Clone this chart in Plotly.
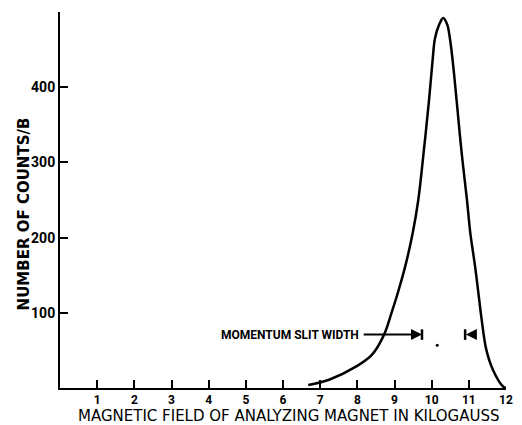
import plotly.graph_objects as go

# Counting-rate curve vs. analyzing-magnet field
field_kg = [6.68, 7.24, 7.95, 8.39, 8.72, 8.92, 9.11, 9.30, 9.49, 9.64, 9.79, 9.93,
            10.02, 10.09, 10.20, 10.31, 10.42, 10.49, 10.57, 10.67, 10.80, 10.95,
            11.04, 11.17, 11.28, 11.34, 11.47, 11.65, 11.92, 12.0]
counts_per_b = [4, 11, 28, 44, 71, 100, 130, 164, 206, 250, 316, 383,
                433, 465, 483, 492, 483, 465, 433, 383, 316, 250,
                206, 161, 117, 93, 51, 24, 2, 0]

x_ticks = [1, 2, 3, 4, 5, 6, 7, 8, 9, 10, 11, 12]
y_ticks = [100, 200, 300, 400]

# Momentum slit edges (kilogauss) and the level they are drawn at
slit_low, slit_high = 9.74, 10.90
slit_level = 71

bold_font = "Roboto, DejaVu Sans, sans-serif"
wide_font = "DejaVu Sans, Verdana, sans-serif"

fig = go.Figure()
fig.add_trace(go.Scatter(
    x=field_kg, y=counts_per_b, mode="lines",
    line=dict(color="black", width=2.5, shape="spline", smoothing=1.0),
    hoverinfo="skip", showlegend=False,
))
# small dot between the slit markers
fig.add_trace(go.Scatter(
    x=[10.15], y=[57], mode="markers",
    marker=dict(color="black", size=3), hoverinfo="skip", showlegend=False,
))

# slit-width markers: arrow into the left edge, arrow into the right edge
fig.add_annotation(x=slit_low, y=slit_level, ax=8.13, ay=slit_level,
                   xref="x", yref="y", axref="x", ayref="y", text="",
                   showarrow=True, arrowhead=2, arrowsize=1.1, arrowwidth=2,
                   arrowcolor="black")
fig.add_annotation(x=slit_high + 0.02, y=slit_level, ax=11.2, ay=slit_level,
                   xref="x", yref="y", axref="x", ayref="y", text="",
                   showarrow=True, arrowhead=2, arrowsize=1.1, arrowwidth=2,
                   arrowcolor="black")
for xv in (slit_low, slit_high):
    fig.add_shape(type="line", x0=xv, x1=xv, y0=slit_level - 7, y1=slit_level + 7,
                  xref="x", yref="y", line=dict(color="black", width=2.5))

fig.add_annotation(x=6.2, y=slit_level, xref="x", yref="y",
                   text="<b>MOMENTUM SLIT WIDTH</b>", showarrow=False,
                   font=dict(family=bold_font, size=12, color="black"))

# axis titles
fig.add_annotation(x=0.512, y=-0.0736, xref="paper", yref="paper",
                   text="MAGNETIC FIELD OF ANALYZING MAGNET IN KILOGAUSS",
                   showarrow=False, yanchor="middle",
                   font=dict(family=wide_font, size=15, color="black"))
fig.add_annotation(x=-0.081, y=0.464, xref="paper", yref="paper",
                   text="<b>NUMBER OF COUNTS/B</b>", textangle=-90,
                   showarrow=False, xanchor="center", yanchor="middle",
                   font=dict(family=wide_font, size=15, color="black"))

fig.update_xaxes(range=[0, 12], tickvals=x_ticks, ticktext=[f"<b>{v}</b>" for v in x_ticks],
                 ticks="inside", ticklen=8, tickwidth=2, tickcolor="black",
                 showline=True, linewidth=2, linecolor="black",
                 showgrid=False, zeroline=False,
                 tickfont=dict(family=bold_font, size=12, color="black"))
fig.update_yaxes(range=[0, 500], tickvals=y_ticks, ticktext=[f"<b>{v}</b>" for v in y_ticks],
                 ticks="inside", ticklen=8, tickwidth=2, tickcolor="black",
                 showline=True, linewidth=2, linecolor="black",
                 showgrid=False, zeroline=False,
                 tickfont=dict(family=bold_font, size=14, color="black"))

fig.update_layout(
    width=522, height=425,
    margin=dict(l=59.5, r=9, t=12, b=37),
    paper_bgcolor="white", plot_bgcolor="white",
    showlegend=False,
)

fig.write_html("out.html")
